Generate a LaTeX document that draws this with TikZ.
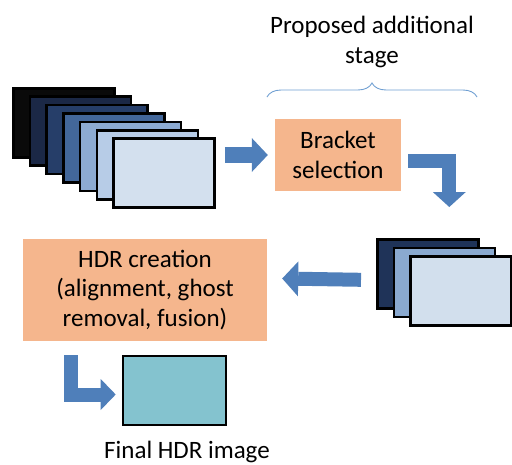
\documentclass[tikz,border=0pt]{standalone}
\usepackage{fontspec}
\setmainfont{Carlito}
\usetikzlibrary{calc,arrows.meta,decorations.pathreplacing}
\definecolor{peach}{HTML}{F5B68D}
\definecolor{finalfill}{HTML}{84C3CF}
\definecolor{flowblue}{HTML}{4F7FBA}
\definecolor{braceblue}{HTML}{6F9FD2}
\definecolor{shotA}{HTML}{0A0A0A}
\definecolor{shotB}{HTML}{1B2846}
\definecolor{shotC}{HTML}{263E69}
\definecolor{shotD}{HTML}{43679A}
\definecolor{shotE}{HTML}{8DABD2}
\definecolor{shotF}{HTML}{B7CCE7}
\definecolor{shotG}{HTML}{D3E0EE}
\definecolor{pickA}{HTML}{1F3358}
\definecolor{pickB}{HTML}{8AA9CF}
\definecolor{pickC}{HTML}{D2DFED}
\newcommand{\bodyfont}{\fontsize{25}{29.5}\selectfont}
\tikzset{
  shot/.style={draw=black, line width=2.6pt, minimum width=101pt, minimum height=69pt, inner sep=0pt},
  stagebox/.style={fill=peach, align=center, inner sep=0pt, font=\bodyfont},
  flow/.style={draw=flowblue, line width=14pt, line join=miter,
    -{Triangle[length=15pt,width=33pt,line width=0pt]}},
  lab/.style={font=\bodyfont, align=center},
  stagebrace/.style={draw=braceblue, line width=0.9pt, decorate, decoration={brace, amplitude=14pt}},
}

\begin{document}
\begin{tikzpicture}[x=1pt, y=-1pt]
  \useasboundingbox (0,0) rectangle (512,464);
  % exposure stack
  \foreach \c [count=\i] in {shotA,shotB,shotC,shotD,shotE,shotF,shotG}
    \node[shot, fill=\c, anchor=north west] (in\i) at ({12+16.7*(\i-1)},{87+8.4*(\i-1)}) {};
  \node[stagebox, minimum width=126pt, minimum height=72pt] (bracket) at (338,155) {Bracket\\selection};
  \node[lab] (proposed) at (372,42) {Proposed additional\\stage};
  \coordinate (bl) at (267,97);
  \coordinate (br) at (477,97);
  \draw[stagebrace] (bl) -- (br);
  % selected brackets
  \foreach \c [count=\i] in {pickA,pickB,pickC}
    \node[shot, fill=\c, anchor=north west] (s\i) at ({376+16.5*(\i-1)},{238+8.5*(\i-1)}) {};
  \node[stagebox, minimum width=244pt, minimum height=102pt] (hdr) at (145,290)
    {HDR creation\\(alignment, ghost\\removal, fusion)};
  \node[shot, fill=finalfill, minimum width=103pt] (final) at (174.5,390.5) {};
  \node[lab, anchor=base, inner sep=0pt] (caption) at ($(final.south)+(12.5,32)$) {Final HDR image};
  \coordinate (drop) at ($(s1.north)+(21.5,-31)$);
  \draw[flow, line width=16pt, -{Triangle[length=16pt,width=34pt,line width=0pt]}]
    ($(bracket.west -| in7.east)+(9,0)$) -- ($(bracket.west)+(-7,0)$);
  \draw[flow] ($(bracket.east)+(7,5.5)$) -| (drop);
  \draw[flow, -{Triangle[length=16pt,width=35pt,line width=0pt]}]
    ($(s1.west)+(-15,6)$) -- ($(hdr.east)+(15,-11.5)$);
  \draw[flow, -{Triangle[length=15pt,width=31pt,line width=0pt]}]
    ($(hdr.south west)+(48,14)$) |- ($(final.west)+(-6,4)$);
\end{tikzpicture}
\end{document}
